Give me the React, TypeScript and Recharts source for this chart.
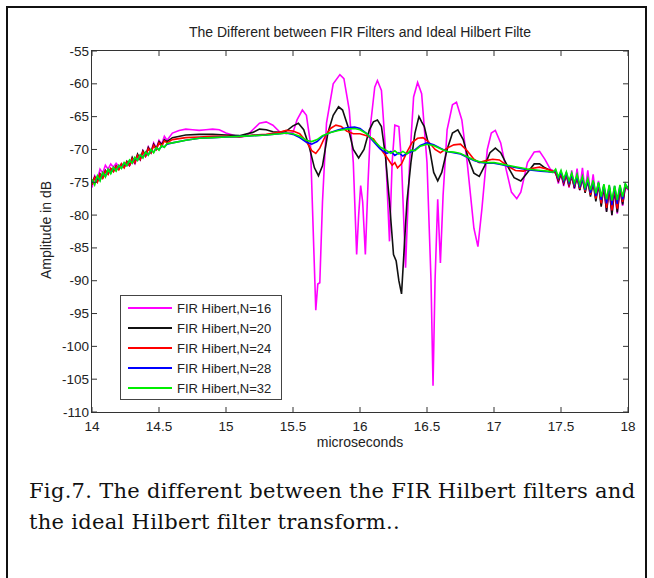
import { LineChart, Line, XAxis, YAxis } from 'recharts';

const xTicks = [14, 14.5, 15, 15.5, 16, 16.5, 17, 17.5, 18];
const yTicks = [-110, -105, -100, -95, -90, -85, -80, -75, -70, -65, -60, -55];

// [microseconds, dB]
const n16: [number, number][] = [
  [14.0, -75.8], [14.02, -74.0], [14.04, -74.6], [14.06, -73.0], [14.08, -73.6], [14.1, -72.4], [14.12, -73.0], [14.14, -72.2],
  [14.16, -72.7], [14.18, -72.1], [14.2, -72.6], [14.22, -72.2], [14.24, -72.6], [14.26, -72.2], [14.28, -72.5], [14.3, -71.7],
  [14.32, -72.2], [14.34, -71.0], [14.36, -71.6], [14.38, -70.2], [14.4, -71.0], [14.42, -69.6], [14.44, -70.3], [14.46, -69.0],
  [14.48, -69.8], [14.5, -68.6], [14.52, -69.2], [14.54, -68.0], [14.56, -68.6], [14.6, -67.5], [14.65, -67.1], [14.7, -66.9],
  [14.75, -67.0], [14.8, -67.1], [14.85, -67.0], [14.9, -66.9], [14.95, -67.0], [15.0, -67.5], [15.05, -67.8], [15.1, -68.1],
  [15.15, -68.0], [15.2, -67.0], [15.25, -66.0], [15.3, -65.8], [15.35, -66.3], [15.4, -67.3], [15.45, -67.6], [15.5, -67.4],
  [15.53, -65.5], [15.57, -64.0], [15.6, -64.8], [15.63, -69.0], [15.655, -85.0], [15.67, -94.5], [15.685, -90.5], [15.7, -90.3],
  [15.72, -78.0], [15.75, -66.0], [15.8, -60.0], [15.85, -58.6], [15.88, -59.2], [15.92, -64.0], [15.95, -72.0], [15.975, -86.0],
  [15.99, -80.0], [16.005, -75.5], [16.02, -78.0], [16.04, -86.0], [16.06, -75.0], [16.08, -66.0], [16.11, -60.5], [16.13, -59.5],
  [16.16, -61.0], [16.19, -70.0], [16.22, -84.0], [16.24, -72.0], [16.26, -66.3], [16.29, -66.5], [16.31, -72.0], [16.34, -88.0],
  [16.37, -72.0], [16.4, -62.0], [16.43, -59.8], [16.46, -61.5], [16.5, -72.0], [16.53, -90.0], [16.545, -106.0], [16.56, -90.0],
  [16.58, -77.6], [16.6, -87.3], [16.62, -77.0], [16.65, -67.0], [16.69, -63.2], [16.72, -62.8], [16.76, -65.5], [16.8, -72.0],
  [16.85, -82.0], [16.88, -84.8], [16.91, -79.0], [16.95, -70.0], [16.98, -67.5], [17.01, -67.1], [17.05, -69.0], [17.09, -73.0],
  [17.13, -76.5], [17.17, -77.5], [17.2, -76.5], [17.25, -72.0], [17.3, -70.4], [17.34, -70.3], [17.38, -71.5], [17.42, -73.0],
  [17.46, -73.4], [17.48, -75.2], [17.5, -73.6], [17.52, -75.6], [17.54, -73.5], [17.56, -75.8], [17.58, -73.2], [17.6, -76.0],
  [17.62, -72.9], [17.64, -76.2], [17.66, -72.8], [17.68, -76.4], [17.7, -73.2], [17.72, -76.8], [17.74, -73.8], [17.76, -77.5],
  [17.78, -74.8], [17.8, -78.5], [17.82, -75.6], [17.84, -79.4], [17.86, -76.0], [17.88, -80.0], [17.9, -76.2], [17.92, -79.8],
  [17.94, -76.0], [17.96, -78.6], [17.98, -75.6], [18.0, -76.2],
];

const n20: [number, number][] = [
  [14.0, -75.2], [14.02, -74.2], [14.04, -74.9], [14.06, -73.7], [14.08, -74.3], [14.1, -73.2], [14.12, -73.7], [14.14, -72.9],
  [14.16, -73.3], [14.18, -72.5], [14.2, -73.0], [14.22, -72.2], [14.24, -72.7], [14.26, -71.8], [14.28, -72.4], [14.3, -71.2],
  [14.32, -72.0], [14.34, -70.7], [14.36, -71.5], [14.38, -70.2], [14.4, -71.0], [14.42, -69.7], [14.44, -70.5], [14.46, -69.2],
  [14.48, -69.9], [14.5, -68.8], [14.52, -69.3], [14.54, -68.5], [14.56, -68.8], [14.6, -68.2], [14.7, -67.8], [14.8, -67.7],
  [14.9, -67.7], [15.0, -67.8], [15.1, -67.9], [15.2, -67.4], [15.25, -66.9], [15.3, -67.0], [15.35, -67.3], [15.4, -67.4],
  [15.45, -67.2], [15.5, -66.4], [15.54, -66.0], [15.58, -67.0], [15.62, -69.5], [15.66, -72.8], [15.69, -74.0], [15.72, -72.5],
  [15.76, -67.5], [15.8, -64.8], [15.84, -63.5], [15.87, -64.0], [15.91, -66.5], [15.95, -70.0], [15.99, -71.3], [16.03, -70.0],
  [16.07, -67.0], [16.1, -65.8], [16.13, -65.5], [16.16, -66.5], [16.19, -71.0], [16.22, -78.0], [16.25, -86.0], [16.27, -87.0],
  [16.29, -90.0], [16.31, -92.0], [16.33, -85.0], [16.35, -78.0], [16.38, -72.0], [16.41, -67.5], [16.44, -65.0], [16.46, -65.8],
  [16.48, -66.5], [16.52, -70.0], [16.55, -73.5], [16.58, -74.8], [16.61, -73.5], [16.65, -70.0], [16.69, -67.5], [16.73, -67.0],
  [16.77, -68.5], [16.81, -71.5], [16.85, -73.6], [16.89, -74.1], [16.93, -72.5], [16.97, -70.5], [17.01, -69.8], [17.05, -70.5],
  [17.1, -72.5], [17.15, -74.3], [17.2, -74.8], [17.25, -73.5], [17.3, -72.2], [17.34, -72.2], [17.38, -72.8], [17.42, -73.2],
  [17.46, -73.6], [17.48, -74.8], [17.5, -73.8], [17.52, -75.2], [17.54, -73.9], [17.56, -75.6], [17.58, -74.0], [17.6, -75.9],
  [17.62, -74.2], [17.64, -76.2], [17.66, -74.4], [17.68, -76.6], [17.7, -74.7], [17.72, -77.2], [17.74, -75.0], [17.76, -77.9],
  [17.78, -75.3], [17.8, -78.7], [17.82, -75.6], [17.84, -79.5], [17.86, -75.8], [17.88, -80.0], [17.9, -76.0], [17.92, -79.6],
  [17.94, -75.9], [17.96, -78.4], [17.98, -75.6], [18.0, -76.0],
];

const n24: [number, number][] = [
  [14.0, -75.4], [14.02, -74.3], [14.04, -75.0], [14.06, -73.8], [14.08, -74.4], [14.1, -73.3], [14.12, -73.8], [14.14, -72.9],
  [14.16, -73.4], [14.18, -72.6], [14.2, -73.1], [14.22, -72.2], [14.24, -72.8], [14.26, -71.9], [14.28, -72.4], [14.3, -71.4],
  [14.32, -72.0], [14.34, -70.9], [14.36, -71.5], [14.38, -70.4], [14.4, -71.0], [14.42, -69.9], [14.44, -70.5], [14.46, -69.4],
  [14.48, -70.0], [14.5, -69.0], [14.52, -69.5], [14.54, -68.7], [14.56, -69.0], [14.6, -68.5], [14.7, -68.2], [14.8, -68.1],
  [14.9, -68.0], [15.0, -68.0], [15.1, -68.1], [15.2, -67.8], [15.3, -67.7], [15.4, -67.4], [15.45, -67.1], [15.5, -67.2],
  [15.55, -67.6], [15.6, -68.8], [15.64, -70.2], [15.67, -70.6], [15.7, -69.8], [15.74, -68.0], [15.78, -66.8], [15.82, -66.3],
  [15.86, -66.5], [15.9, -67.2], [15.95, -67.6], [16.0, -67.6], [16.05, -67.9], [16.1, -68.4], [16.15, -69.8], [16.2, -71.2],
  [16.24, -72.4], [16.26, -72.0], [16.28, -72.8], [16.31, -72.2], [16.35, -70.4], [16.39, -68.9], [16.43, -68.3], [16.47, -68.2],
  [16.51, -68.8], [16.56, -70.0], [16.6, -70.5], [16.65, -69.8], [16.7, -69.3], [16.75, -69.2], [16.8, -70.2], [16.85, -71.5],
  [16.89, -72.0], [16.94, -71.7], [16.99, -71.5], [17.04, -71.6], [17.1, -72.5], [17.16, -73.2], [17.22, -73.3], [17.28, -72.9],
  [17.34, -72.7], [17.4, -73.0], [17.44, -73.3], [17.46, -73.5], [17.48, -74.6], [17.5, -73.7], [17.52, -75.0], [17.54, -73.8],
  [17.56, -75.4], [17.58, -74.0], [17.6, -75.7], [17.62, -74.2], [17.64, -76.0], [17.66, -74.4], [17.68, -76.4], [17.7, -74.6],
  [17.72, -76.9], [17.74, -74.9], [17.76, -77.5], [17.78, -75.2], [17.8, -78.2], [17.82, -75.5], [17.84, -78.9], [17.86, -75.7],
  [17.88, -79.3], [17.9, -75.9], [17.92, -79.0], [17.94, -75.8], [17.96, -78.0], [17.98, -75.5], [18.0, -75.9],
];

const n28: [number, number][] = [
  [14.0, -74.8], [14.02, -75.2], [14.04, -74.2], [14.06, -74.7], [14.08, -73.6], [14.1, -74.1], [14.12, -73.1], [14.14, -73.6],
  [14.16, -72.8], [14.18, -73.2], [14.2, -72.5], [14.22, -72.8], [14.24, -72.1], [14.26, -72.4], [14.28, -71.7], [14.3, -72.0],
  [14.32, -71.3], [14.34, -71.6], [14.36, -70.9], [14.38, -71.2], [14.4, -70.5], [14.42, -70.8], [14.44, -70.1], [14.46, -70.4],
  [14.48, -69.8], [14.5, -70.0], [14.52, -69.5], [14.54, -69.6], [14.56, -69.2], [14.6, -69.0], [14.7, -68.6], [14.8, -68.3],
  [14.9, -68.2], [15.0, -68.1], [15.1, -68.0], [15.2, -67.9], [15.3, -67.8], [15.4, -67.6], [15.45, -67.5], [15.5, -67.7],
  [15.55, -68.2], [15.6, -68.9], [15.64, -69.2], [15.68, -68.8], [15.72, -68.0], [15.78, -67.4], [15.84, -67.0], [15.9, -66.7],
  [15.96, -66.6], [16.0, -66.8], [16.05, -67.6], [16.1, -68.8], [16.15, -69.9], [16.2, -70.6], [16.23, -70.3], [16.26, -70.9],
  [16.29, -70.5], [16.32, -71.0], [16.35, -70.6], [16.4, -70.2], [16.45, -69.4], [16.5, -69.0], [16.55, -69.3], [16.6, -69.8],
  [16.65, -70.3], [16.7, -70.5], [16.75, -70.7], [16.8, -71.2], [16.85, -71.7], [16.9, -72.0], [16.95, -72.1], [17.0, -72.1],
  [17.05, -72.3], [17.1, -72.5], [17.15, -72.7], [17.2, -72.9], [17.25, -73.1], [17.3, -73.2], [17.35, -73.3], [17.4, -73.4],
  [17.44, -73.5], [17.46, -73.2], [17.48, -74.4], [17.5, -73.4], [17.52, -74.8], [17.54, -73.6], [17.56, -75.1], [17.58, -73.8],
  [17.6, -75.4], [17.62, -74.0], [17.64, -75.8], [17.66, -74.3], [17.68, -76.2], [17.7, -74.6], [17.72, -76.6], [17.74, -74.9],
  [17.76, -77.1], [17.78, -75.1], [17.8, -77.7], [17.82, -75.4], [17.84, -78.2], [17.86, -75.5], [17.88, -78.5], [17.9, -75.6],
  [17.92, -78.3], [17.94, -75.5], [17.96, -77.6], [17.98, -75.3], [18.0, -75.9],
];

const n32: [number, number][] = [
  [14.0, -74.5], [14.02, -75.4], [14.04, -74.0], [14.06, -74.8], [14.08, -73.5], [14.1, -74.2], [14.12, -73.0], [14.14, -73.7],
  [14.16, -72.7], [14.18, -73.3], [14.2, -72.4], [14.22, -72.9], [14.24, -72.0], [14.26, -72.5], [14.28, -71.6], [14.3, -72.1],
  [14.32, -71.2], [14.34, -71.7], [14.36, -70.8], [14.38, -71.3], [14.4, -70.4], [14.42, -70.9], [14.44, -70.0], [14.46, -70.5],
  [14.48, -69.7], [14.5, -70.1], [14.52, -69.4], [14.54, -69.7], [14.56, -69.1], [14.6, -69.0], [14.7, -68.6], [14.8, -68.3],
  [14.9, -68.2], [15.0, -68.1], [15.1, -68.0], [15.2, -67.9], [15.3, -67.8], [15.4, -67.6], [15.45, -67.5], [15.5, -67.6],
  [15.55, -68.0], [15.6, -68.6], [15.64, -68.8], [15.68, -68.5], [15.72, -67.9], [15.78, -67.4], [15.84, -67.1], [15.9, -66.9],
  [15.96, -66.8], [16.0, -67.0], [16.05, -67.6], [16.1, -68.6], [16.15, -69.6], [16.2, -70.2], [16.23, -70.6], [16.26, -70.2],
  [16.29, -70.7], [16.32, -70.3], [16.35, -70.7], [16.38, -70.1], [16.41, -70.2], [16.45, -69.5], [16.5, -69.2], [16.55, -69.4],
  [16.6, -69.9], [16.65, -70.3], [16.7, -70.4], [16.75, -70.6], [16.8, -71.1], [16.85, -71.6], [16.9, -71.9], [16.95, -72.0],
  [17.0, -72.0], [17.05, -72.2], [17.1, -72.4], [17.15, -72.6], [17.2, -72.8], [17.25, -73.0], [17.3, -73.1], [17.35, -73.2],
  [17.4, -73.3], [17.44, -73.5], [17.46, -73.0], [17.48, -74.2], [17.5, -73.2], [17.52, -74.5], [17.54, -73.4], [17.56, -74.8],
  [17.58, -73.6], [17.6, -75.1], [17.62, -73.8], [17.64, -75.4], [17.66, -74.1], [17.68, -75.8], [17.7, -74.4], [17.72, -76.2],
  [17.74, -74.7], [17.76, -76.7], [17.78, -75.0], [17.8, -77.2], [17.82, -75.3], [17.84, -77.6], [17.86, -75.4], [17.88, -77.8],
  [17.9, -75.5], [17.92, -77.7], [17.94, -75.4], [17.96, -77.2], [17.98, -75.2], [18.0, -76.0],
];

const series = [
  { name: 'FIR Hibert,N=16', color: '#ff00ff', points: n16 },
  { name: 'FIR Hibert,N=20', color: '#111111', points: n20 },
  { name: 'FIR Hibert,N=24', color: '#ff0000', points: n24 },
  { name: 'FIR Hibert,N=28', color: '#0000ff', points: n28 },
  { name: 'FIR Hibert,N=32', color: '#00ee00', points: n32 },
];

const PLOT = { left: 92, top: 51, right: 628, bottom: 412 };
const AXIS = '#333';
const SANS = '"Liberation Sans", Arial, sans-serif';

function XTick({ x, payload }: any) {
  return (
    <g>
      <line x1={x} x2={x} y1={PLOT.bottom} y2={PLOT.bottom - 5} stroke={AXIS} />
      <line x1={x} x2={x} y1={PLOT.top} y2={PLOT.top + 5} stroke={AXIS} />
      <text x={x} y={PLOT.bottom + 19} textAnchor="middle" fontSize={13.5} fontFamily={SANS} fill="#222">
        {payload.value}
      </text>
    </g>
  );
}

function YTick({ y, payload }: any) {
  return (
    <g>
      <line x1={PLOT.left} x2={PLOT.left + 5} y1={y} y2={y} stroke={AXIS} />
      <line x1={PLOT.right} x2={PLOT.right - 5} y1={y} y2={y} stroke={AXIS} />
      <text x={PLOT.left - 3} y={y + 4.5} textAnchor="end" fontSize={13.5} fontFamily={SANS} fill="#222">
        {payload.value}
      </text>
    </g>
  );
}

export default function App() {
  return (
    <div style={{ position: 'absolute', left: 0, top: 0, width: 654, height: 578, overflow: 'hidden', background: '#fff' }}>
      <div style={{ position: 'absolute', left: 6, top: 6, width: 641, height: 700, border: '2px solid #111', boxSizing: 'border-box' }} />
      <div style={{ position: 'absolute', left: 0, width: 720, top: 24, textAlign: 'center', fontFamily: SANS, fontSize: 14, color: '#222', lineHeight: '16px' }}>
        The Different between FIR Filters and Ideal Hilbert Filte
      </div>
      <LineChart width={654} height={470} margin={{ top: 51, right: 26, left: 52, bottom: 28 }} style={{ position: 'absolute', left: 0, top: 0 }}>
        <XAxis dataKey="t" type="number" domain={[14, 18]} ticks={xTicks} tick={<XTick />} tickLine={false} axisLine={false} height={30} allowDataOverflow interval={0} />
        <YAxis type="number" domain={[-110, -55]} ticks={yTicks} tick={<YTick />} tickLine={false} axisLine={false} width={40} allowDataOverflow interval={0} />
        {series.map((s) => (
          <Line
            key={s.name}
            data={s.points.map(([t, db]) => ({ t, db }))}
            dataKey="db"
            name={s.name}
            type="linear"
            stroke={s.color}
            strokeWidth={1.6}
            dot={false}
            isAnimationActive={false}
          />
        ))}
      </LineChart>
      <div style={{ position: 'absolute', left: 91, top: 50, width: 538, height: 363, border: `1px solid ${AXIS}`, boxSizing: 'border-box', pointerEvents: 'none' }} />
      <div style={{ position: 'absolute', left: 0, width: 720, top: 434, textAlign: 'center', fontFamily: SANS, fontSize: 14, color: '#222', lineHeight: '16px' }}>
        microseconds
      </div>
      <div style={{ position: 'absolute', left: 46, top: 230, transform: 'translate(-50%, -50%) rotate(-90deg)', whiteSpace: 'nowrap', fontFamily: SANS, fontSize: 14, color: '#222' }}>
        Amplitude in dB
      </div>
      <div style={{ position: 'absolute', left: 120, top: 295, width: 162, height: 105, border: '1px solid #444', background: '#fff', boxSizing: 'border-box' }}>
        {series.map((s, i) => (
          <div key={s.name} style={{ position: 'absolute', left: 7, top: 2 + i * 20, height: 20, display: 'flex', alignItems: 'center' }}>
            <div style={{ width: 44, height: 2, background: s.color }} />
            <span style={{ marginLeft: 5, fontFamily: SANS, fontSize: 13, color: '#222', whiteSpace: 'nowrap' }}>{s.name}</span>
          </div>
        ))}
      </div>
      <div style={{ position: 'absolute', left: 29, top: 476, fontFamily: '"DejaVu Serif", serif', fontSize: 21, letterSpacing: 0.3, lineHeight: '31px', color: '#111', whiteSpace: 'nowrap' }}>
        Fig.7. The different between the FIR Hilbert filters and
        <br />
        the ideal Hilbert filter transform..
      </div>
    </div>
  );
}
